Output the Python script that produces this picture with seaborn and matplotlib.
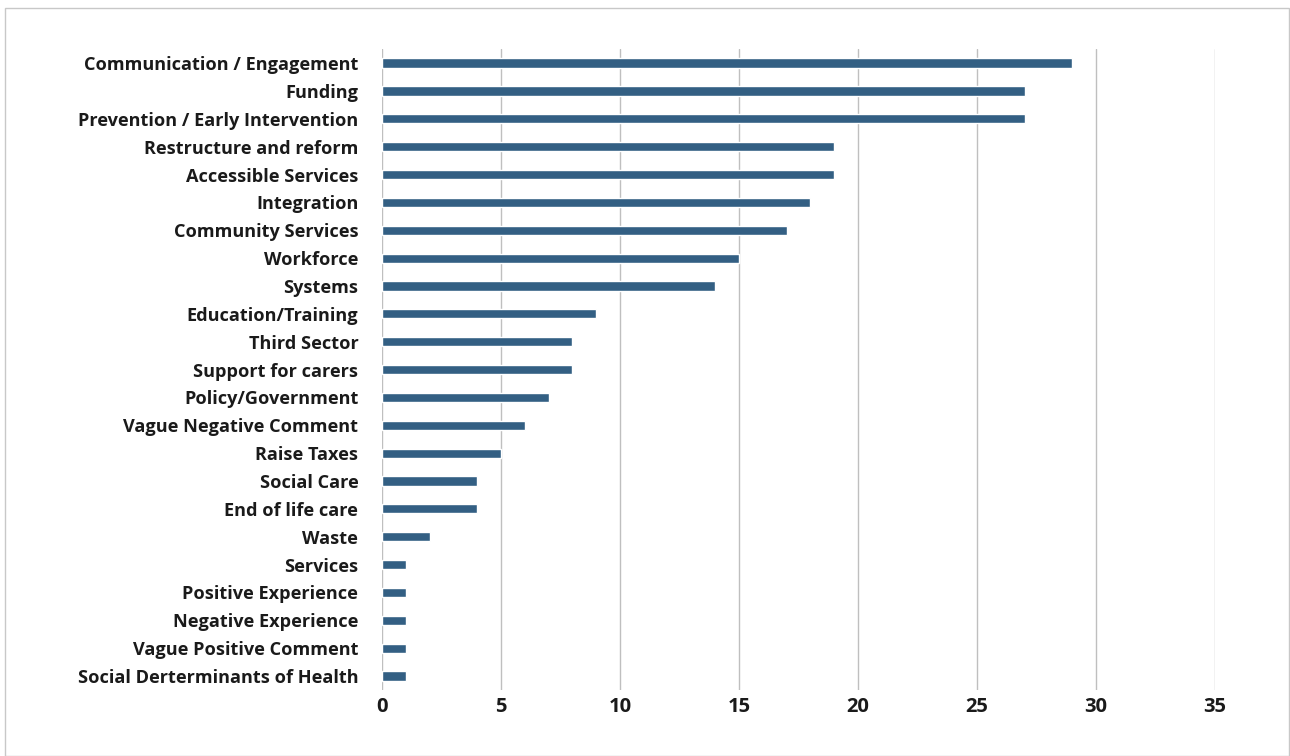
import matplotlib
matplotlib.use('Agg')
import matplotlib.pyplot as plt
import seaborn as sns
import pandas as pd
from matplotlib.patches import Rectangle

categories = [
    'Communication / Engagement', 'Funding', 'Prevention / Early Intervention',
    'Restructure and reform', 'Accessible Services', 'Integration',
    'Community Services', 'Workforce', 'Systems', 'Education/Training',
    'Third Sector', 'Support for carers', 'Policy/Government',
    'Vague Negative Comment', 'Raise Taxes', 'Social Care', 'End of life care',
    'Waste', 'Services', 'Positive Experience', 'Negative Experience',
    'Vague Positive Comment', 'Social Derterminants of Health',
]
counts = [29, 27, 27, 19, 19, 18, 17, 15, 14, 9, 8, 8, 7, 6, 5, 4, 4, 2, 1, 1, 1, 1, 1]
x_ticks = [0, 5, 10, 15, 20, 25, 30, 35]

sns.set_style('white')
plt.rcParams['font.family'] = ['Open Sans', 'DejaVu Sans']

df = pd.DataFrame({'theme': categories, 'count': counts})

fig = plt.figure(figsize=(12.9, 7.56), dpi=100)
ax = fig.add_axes([0.2961, 0.0873, 0.6458, 0.8477])

sns.barplot(data=df, x='count', y='theme', color='#335f83', saturation=1,
            width=0.33, ax=ax)

ax.set_xlim(0, 35)
ax.set_ylim(len(categories) - 0.5, -0.5)
ax.set_xticks(x_ticks)
ax.grid(True, axis='x', color='#bfbfbf', linewidth=1)
ax.set_axisbelow(True)
for s in ax.spines.values():
    s.set_visible(False)
ax.set_xlabel('')
ax.set_ylabel('')
ax.tick_params(axis='y', length=0, pad=17, labelsize=13.1, labelcolor='#1a1a1a')
ax.tick_params(axis='x', length=0, pad=5, labelsize=14.5, labelcolor='#1a1a1a')
for lbl in ax.get_yticklabels() + ax.get_xticklabels():
    lbl.set_fontweight('bold')

fig.patches.append(Rectangle((0.004, 0.0), 0.995, 0.989, transform=fig.transFigure,
                             fill=False, edgecolor='#c8c8c8', linewidth=1))

fig.savefig('out.png', dpi=100)
